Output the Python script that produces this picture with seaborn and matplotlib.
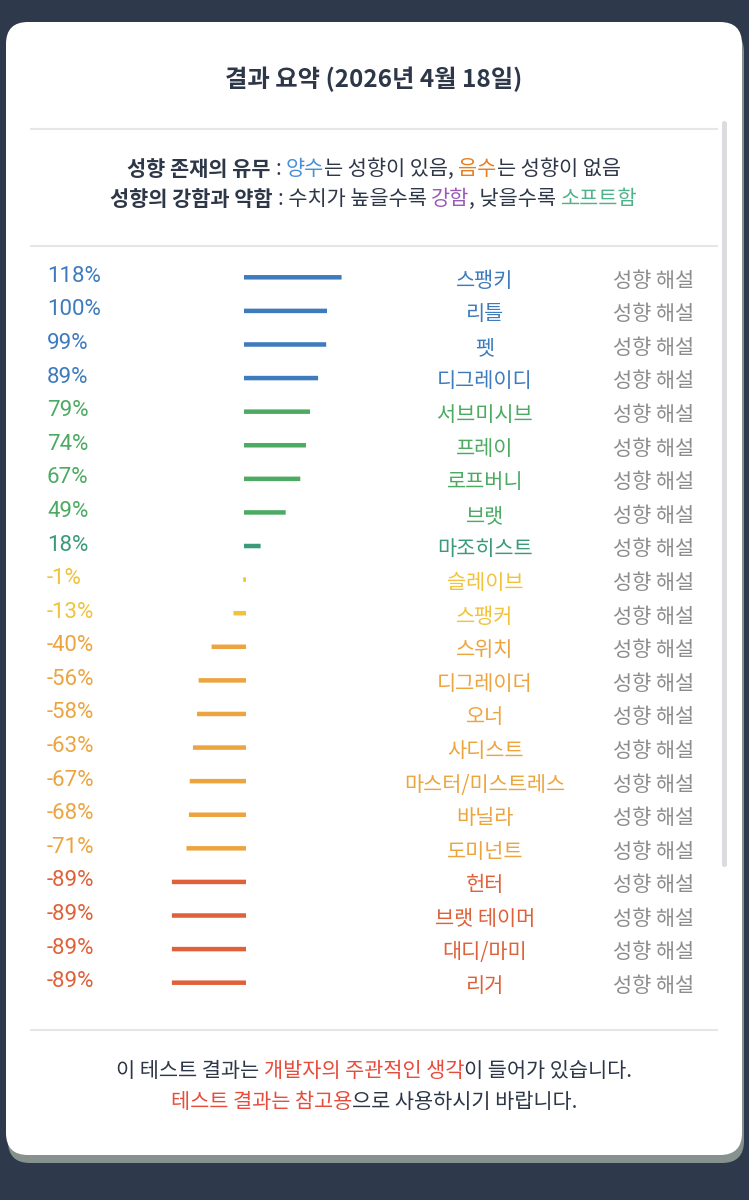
import pandas as pd
import seaborn as sns
import matplotlib.pyplot as plt
from matplotlib.patches import FancyBboxPatch
from matplotlib.transforms import blended_transform_factory

# data
names = ["스팽키", "리틀", "펫", "디그레이디", "서브미시브", "프레이", "로프버니", "브랫",
         "마조히스트", "슬레이브", "스팽커", "스위치", "디그레이더", "오너", "사디스트",
         "마스터/미스트레스", "바닐라", "도미넌트", "헌터", "브랫 테이머", "대디/마미", "리거"]
values = [118, 100, 99, 89, 79, 74, 67, 49, 18, -1, -13, -40, -56, -58, -63, -67, -68,
          -71, -89, -89, -89, -89]
groups = ["blue"] * 4 + ["green"] * 4 + ["teal"] + ["yellow"] * 2 + ["orange"] * 7 + ["red"] * 4

group_colors = {"blue": "#3d7bbd", "green": "#4caa62", "teal": "#3a9a7b",
                "yellow": "#f1c23c", "orange": "#eca43f", "red": "#df6139"}
colors = [group_colors[g] for g in groups]

BG = "#2e3a4c"
DARK = "#2d3748"
GRAY = "#8c8c8c"
W, H = 749, 1200

sns.set_theme(style="white")
plt.rcParams['font.family'] = ['Noto Sans CJK KR', 'DejaVu Sans']

fig = plt.figure(figsize=(W / 100, H / 100), dpi=100)
fig.patch.set_facecolor(BG)

# background axes in pixel units
bg = fig.add_axes([0, 0, 1, 1])
bg.set_xlim(0, W)
bg.set_ylim(H, 0)
bg.axis('off')

bg.add_patch(FancyBboxPatch((8, 30), 736, 1133, boxstyle="round,pad=0,rounding_size=22",
                            fc="#87918d", ec="none"))
bg.add_patch(FancyBboxPatch((6, 22), 736, 1133, boxstyle="round,pad=0,rounding_size=22",
                            fc="white", ec="none"))
for yy in [129, 246, 1030]:
    bg.plot([30, 718], [yy, yy], color="#e6e6e8", lw=1.5, solid_capstyle='butt')
bg.add_patch(FancyBboxPatch((722, 121), 5, 746, boxstyle="round,pad=0,rounding_size=2.5",
                            fc="#dcdce0", ec="none"))

renderer = fig.canvas.get_renderer()


def text_w(s, size, weight):
    t = bg.text(0, 0, s, fontsize=size, fontweight=weight)
    w = t.get_window_extent(renderer).width
    t.remove()
    return w


def rich(y, parts, size, cx=374):
    sw = text_w("가 가", size, "normal") - text_w("가가", size, "normal")
    items = []
    total = 0
    for s, color, weight in parts:
        core = s.strip(" ")
        ls = len(s) - len(s.lstrip(" "))
        ts = len(s) - len(s.rstrip(" "))
        w = text_w(core, size, weight)
        items.append((core, color, weight, ls * sw, w, ts * sw))
        total += ls * sw + w + ts * sw
    x = cx - total / 2
    for core, color, weight, lpad, w, tpad in items:
        x += lpad
        bg.text(x, y, core, fontsize=size, fontweight=weight, color=color,
                ha='left', va='center')
        x += w + tpad


bg.text(374, 79, "결과 요약 (2026년 4월 18일)", fontsize=17.5, fontweight='bold',
        color=DARK, ha='center', va='center')

rich(169, [("성향 존재의 유무", DARK, "bold"), (" : ", DARK, "normal"),
           ("양수", "#4a90d9", "normal"), ("는 성향이 있음, ", DARK, "normal"),
           ("음수", "#e67e22", "normal"), ("는 성향이 없음", DARK, "normal")], 15)
rich(199, [("성향의 강함과 약함", DARK, "bold"), (" : 수치가 높을수록 ", DARK, "normal"),
           ("강함", "#9b59b6", "normal"), (", 낮을수록 ", DARK, "normal"),
           ("소프트함", "#4fb38a", "normal")], 15)

rich(1071, [("이 테스트 결과는 ", DARK, "normal"), ("개발자의 주관적인 생각", "#e74c3c", "normal"),
            ("이 들어가 있습니다.", DARK, "normal")], 15)
rich(1102, [("테스트 결과는 참고용", "#e74c3c", "normal"),
            ("으로 사용하시기 바랍니다.", DARK, "normal")], 15)

# bar axes
row_h = 33.59
top = 277.3 - row_h / 2
ax = fig.add_axes([30 / W, 1 - (top + 22 * row_h) / H, 688 / W, 22 * row_h / H])
ax.patch.set_alpha(0)
df = pd.DataFrame({"name": names, "value": values})
# thin face + same-colour edge gives the small fixed cap on each bar end
sns.barplot(data=df, x="value", y="name", hue="name", palette=colors, saturation=1,
            width=2.5 / row_h, linewidth=1.44, legend=False, ax=ax)
for p in ax.patches:
    p.set_edgecolor(p.get_facecolor())
    p.set_snap(False)
zero = 245
scale = 0.81
ax.set_xlim((30 - zero) / scale, (718 - zero) / scale)
ax.set_ylim(21.5, -0.5)
ax.axis('off')

tr = blended_transform_factory(bg.transData, ax.transData)
for i, (n, v, c) in enumerate(zip(names, values, colors)):
    ax.text(47, i - 0.03, f"{v}%", transform=tr, fontfamily=['Roboto', 'DejaVu Sans'],
            fontsize=16, color=c, ha='left', va='center')
    ax.text(485, i + 0.1, n, transform=tr, fontsize=15, color=c, ha='center', va='center')
    ax.text(613, i + 0.1, "성향 해설", transform=tr, fontsize=15, color=GRAY,
            ha='left', va='center')

plt.savefig("out.png", dpi=100, facecolor=BG)
